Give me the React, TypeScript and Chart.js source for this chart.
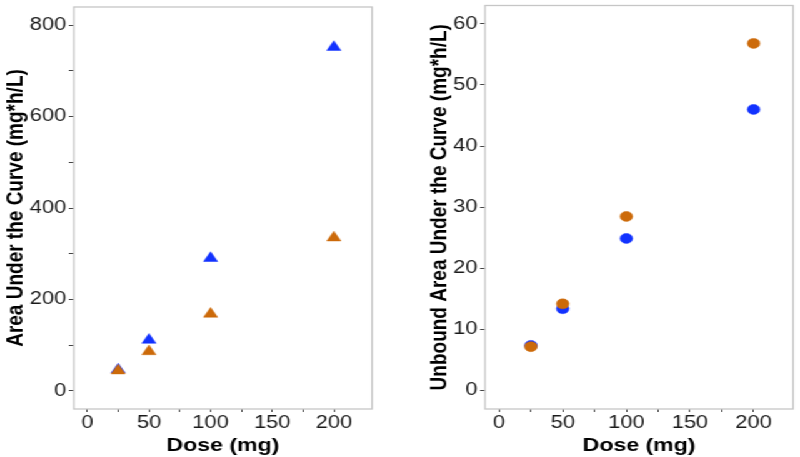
import React, { useEffect, useRef } from 'react';
import { Chart, registerables } from 'chart.js';

Chart.register(...registerables);

// ---- data ----
const doses = [25, 50, 100, 200];
const aucBlue = [46, 111, 290, 752];
const aucOrange = [44, 86, 168, 335];
const unboundAucBlue = [7.4, 13.4, 24.9, 46.0];
const unboundAucOrange = [7.2, 14.2, 28.5, 56.8];

const xTickValues = [0, 25, 50, 75, 100, 125, 150, 175, 200];
const xLabelStep = 50;
const leftYTickValues = [0, 100, 200, 300, 400, 500, 600, 700, 800];
const leftYLabelStep = 200;
const rightYTickValues = [0, 10, 20, 30, 40, 50, 60];
const rightYLabelStep = 10;

const xTitle = 'Dose (mg)';
const leftYTitle = 'Area Under the Curve (mg*h/L)';
const rightYTitle = 'Unbound Area Under the Curve (mg*h/L)';

const BLUE = '#1232ff';
const ORANGE = '#cc6a0a';
const FONT = "'Liberation Sans', Arial, sans-serif";

const boxPlugin = {
  id: 'plotBox',
  beforeDatasetsDraw(chart: any) {
    const { ctx, chartArea } = chart;
    ctx.save();
    ctx.strokeStyle = '#c6c6c6';
    ctx.lineWidth = 1.3;
    ctx.strokeRect(chartArea.left, chartArea.top, chartArea.right - chartArea.left, chartArea.bottom - chartArea.top);
    ctx.restore();
  },
};

type PanelProps = {
  blue: number[];
  orange: number[];
  yTicks: number[];
  yLabelStep: number;
  yMin: number;
  yMax: number;
  yTitle: string;
  pointStyle: string;
  radius: number;
  yAxisWidth: number;
  padRight: number;
  titlePad: number;
};

function Panel(p: PanelProps) {
  const ref = useRef<HTMLCanvasElement | null>(null);
  useEffect(() => {
    if (!ref.current) return;
    const mk = (vals: number[]) => doses.map((d, i) => ({ x: d, y: vals[i] }));
    const chart = new Chart(ref.current, {
      type: 'scatter',
      data: {
        datasets: [
          {
            data: mk(p.orange),
            backgroundColor: ORANGE,
            borderColor: ORANGE,
            pointStyle: p.pointStyle as any,
            pointRadius: p.radius,
            pointBorderWidth: 0.5,
          },
          {
            data: mk(p.blue),
            backgroundColor: BLUE,
            borderColor: BLUE,
            pointStyle: p.pointStyle as any,
            pointRadius: p.radius,
            pointBorderWidth: 0.5,
          },
        ],
      },
      options: {
        responsive: false,
        animation: false,
        events: [],
        layout: { padding: { top: 3, right: p.padRight, bottom: 0, left: 0 } },
        plugins: { legend: { display: false }, tooltip: { enabled: false } },
        scales: {
          x: {
            type: 'linear',
            min: -11,
            max: 231,
            afterBuildTicks: (s: any) => { s.ticks = xTickValues.map((v) => ({ value: v })); },
            afterFit: (s: any) => { s.height = 48; s.paddingLeft = 0; s.paddingRight = 0; },
            grid: { drawOnChartArea: false, drawTicks: true, tickLength: 3, tickColor: '#444', tickWidth: 1 },
            border: { display: false },
            ticks: {
              padding: 1,
              color: '#1a1a1a',
              font: { family: FONT, size: 17.5 },
              maxRotation: 0,
              autoSkip: false,
              callback: (v: any) => (Number(v) % xLabelStep === 0 ? String(v) : ''),
            },
            title: {
              display: true,
              text: xTitle,
              color: '#000',
              font: { family: FONT, size: 18.5, weight: 'bold' },
              padding: { top: 0, bottom: 0 },
            },
          },
          y: {
            type: 'linear',
            min: p.yMin,
            max: p.yMax,
            afterBuildTicks: (s: any) => { s.ticks = p.yTicks.map((v) => ({ value: v })); },
            afterFit: (s: any) => { s.width = p.yAxisWidth; s.paddingTop = 0; s.paddingBottom = 0; },
            grid: { drawOnChartArea: false, drawTicks: true, tickLength: 4, tickColor: '#444', tickWidth: 1 },
            border: { display: false },
            ticks: {
              padding: 2,
              color: '#1a1a1a',
              font: { family: FONT, size: 17.5 },
              autoSkip: false,
              callback: (v: any) => (Number(v) % p.yLabelStep === 0 ? String(v) : ''),
            },
            title: {
              display: true,
              text: p.yTitle,
              color: '#000',
              font: { family: FONT, size: 19, weight: 'bold' },
              padding: { top: p.titlePad, bottom: 0 },
            },
          },
        },
      },
      plugins: [boxPlugin],
    });
    return () => chart.destroy();
  }, []);
  return <canvas ref={ref} width={320} height={457} style={{ display: 'block' }} />;
}

export default function App() {
  return (
    <div
      style={{
        position: 'fixed',
        left: 0,
        top: 0,
        width: 640,
        height: 457,
        display: 'flex',
        background: '#fff',
        transform: 'scaleX(1.25)',
        transformOrigin: '0 0',
      }}
    >
      <Panel
        blue={aucBlue}
        orange={aucOrange}
        yTicks={leftYTickValues}
        yLabelStep={leftYLabelStep}
        yMin={-40}
        yMax={840}
        yTitle={leftYTitle}
        pointStyle="triangle"
        radius={6.5}
        yAxisWidth={59}
        padRight={22.4}
        titlePad={1.5}
      />
      <Panel
        blue={unboundAucBlue}
        orange={unboundAucOrange}
        yTicks={rightYTickValues}
        yLabelStep={rightYLabelStep}
        yMin={-3}
        yMax={63}
        yTitle={rightYTitle}
        pointStyle="circle"
        radius={5}
        yAxisWidth={68}
        padRight={3.2}
        titlePad={20}
      />
    </div>
  );
}
